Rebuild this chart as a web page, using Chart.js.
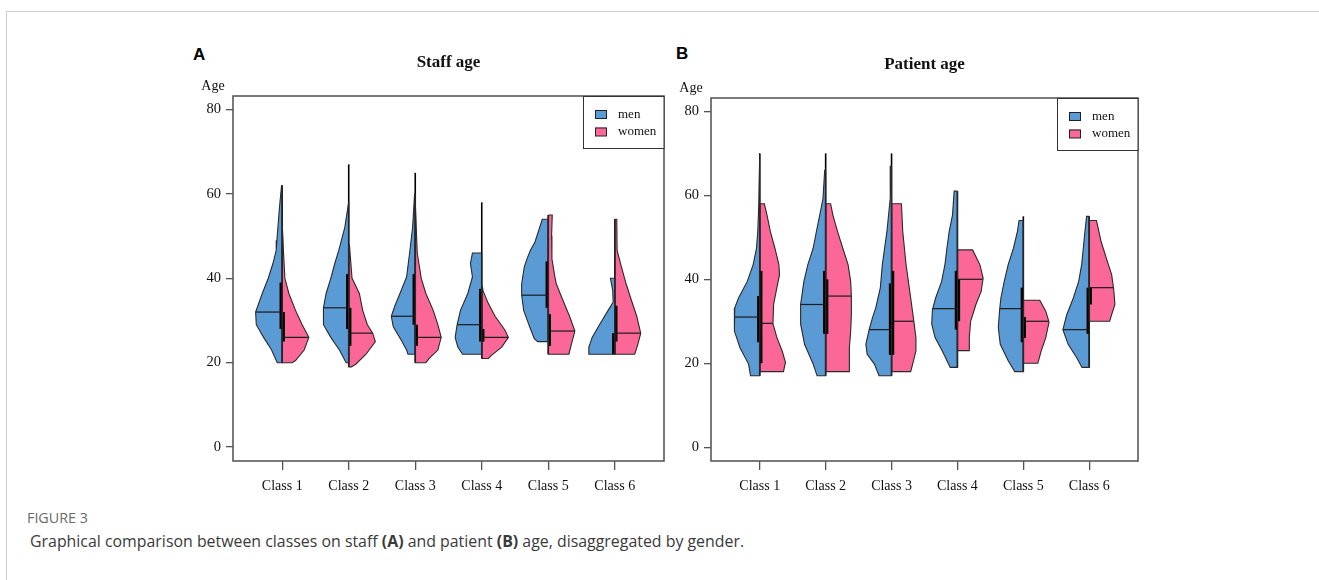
<!DOCTYPE html>
<html><head><meta charset="utf-8">
<script src="https://cdn.jsdelivr.net/npm/chart.js@4.4.1/dist/chart.umd.min.js"></script>
<style>
html,body{margin:0;padding:0;background:#fff}
body{width:1319px;height:580px;overflow:hidden;position:relative}
#frame{position:absolute;left:6px;top:11px;right:0;bottom:0;border-top:1px solid #cfcfcf;border-left:1px solid #cfcfcf}
canvas{position:absolute}
.lab{position:absolute;font-family:'Liberation Sans',Arial,sans-serif;font-weight:bold;font-size:17px;color:#000;line-height:20px}
#fig{position:absolute;left:27px;top:509px;font-family:'Open Sans',sans-serif;font-size:14.3px;color:#6a6a6a;line-height:18px}
#cap{position:absolute;left:30px;top:530px;font-family:'Open Sans',sans-serif;font-size:15.9px;color:#3a3a3a;line-height:22px;white-space:nowrap}
</style></head>
<body>
<div id="frame"></div>
<div class="lab" style="left:193px;top:45px">A</div>
<div class="lab" style="left:676px;top:44px">B</div>
<canvas id="cA" width="530" height="480" style="left:150px;top:30px"></canvas>
<canvas id="cB" width="530" height="480" style="left:627px;top:30px"></canvas>
<div id="fig">FIGURE 3</div>
<div id="cap">Graphical comparison between classes on staff <b>(A)</b> and patient <b>(B)</b> age, disaggregated by gender.</div>
<script>
// ---------- data ----------
const classes = ['Class 1','Class 2','Class 3','Class 4','Class 5','Class 6'];
const yTicks = [0, 20, 40, 60, 80];
const groups = ['men', 'women'];

// density outlines: [age, half-width in % of class spacing], from top to bottom
const staffMenDensity = [
  [[62,1],[57,4],[49,8],[46.6,9],[43.5,14],[40,21],[36.4,30],[32,40],[29,39],[26,28],[23,16],[20,7.5]],
  [[58,1],[52,6],[46.6,15],[43.5,21],[40,27],[36.4,34],[33,38],[29,38],[26,27],[23,14],[21.5,9],[20,4]],
  [[60,1],[52,4],[46.6,8],[40.3,13],[36.4,23],[33.3,31],[31,36],[28.5,33],[25.3,21],[23,13],[22,11]],
  [[46,14],[43.5,17],[40.3,14],[36.4,21],[32.4,32],[29,37],[26,40],[23.7,36],[22,29]],
  [[54,9],[48.6,20],[46.6,27],[44.6,32],[42.7,36],[38.7,40],[36,40],[32.4,37],[28.5,28],[25.7,21],[25,16]],
  [[40,6.5],[37,3],[34.3,2.5],[32.4,10],[29,23],[26,34],[23.7,39],[22,39]]
];
const staffWomenDensity = [
  [[53,1],[46,2],[40,4],[36.4,10],[32.4,20],[29,30],[26,40],[23,33],[20.5,20],[20,15]],
  [[48,1],[40,5],[36.4,16],[32.4,21],[29,28],[27,36],[25,40],[22,26],[19.7,11],[19,4]],
  [[58,1],[46,3],[40,9],[36.4,16],[32.4,27],[29,34],[26,39],[23,34],[21,21],[20,16]],
  [[38,1],[37,2],[34,10],[31,20],[27.7,35],[26,40],[23.7,30],[21.8,15],[21,10]],
  [[55,6],[50,5],[44.6,5.5],[40.7,9.5],[38.7,12],[34.8,22],[31,32],[27.5,40],[24.5,35],[22,31]],
  [[54,3],[46.6,3.5],[42.7,10],[38.7,17],[34.8,25],[31,33],[27,39],[24.5,35],[22,30]]
];
const patientMenDensity = [
  [[70,1],[58,1.5],[51.4,3],[47.4,5],[43.5,10],[39.5,19],[35.6,32],[33.2,38],[30.8,39],[27.7,38],[23.7,30],[19.8,17],[17,14]],
  [[66,1.5],[59.3,4],[55.3,9],[51.4,14],[47.4,19],[43.5,27],[39.5,33],[34,38],[29.3,38],[24.5,32],[19.8,19],[17,13]],
  [[67,1],[59.3,2],[51.4,7],[43.5,14],[38,17],[33.2,24],[30.8,29],[28,34],[24.5,39],[22.1,37],[19.8,26],[17,19]],
  [[61,5],[55.3,7.5],[51.4,12.5],[47.4,16],[43.5,19],[39.5,24],[35.6,33],[32.7,38],[29.3,39],[26.1,34],[22.9,23],[19,11]],
  [[54,6.5],[51.4,9],[47.4,15],[43.5,23],[39.5,29],[35.6,34],[32.7,36],[28.5,38],[24.5,35],[20.6,23],[18,13]],
  [[55,4],[51.4,6.5],[47.4,9],[43.5,11.5],[39.5,16],[35.6,24],[31.6,34],[28,40],[24.5,32],[21.3,19],[19,11]]
];
const patientWomenDensity = [
  [[58,7],[55.3,11],[51.4,16],[47.4,23],[43.5,29],[41.1,30],[38,26],[34,21],[29.4,20],[26.1,26],[22.9,34],[20.2,39],[18,36]],
  [[58,7.5],[55.3,11],[51.4,18],[47.4,26],[43.5,34],[39.5,38],[36,39],[31.6,39],[27.7,38],[23.7,36],[18,36]],
  [[58,15],[51.4,17],[43.5,22],[35.6,29],[29.8,34],[26.1,37],[22.9,37],[19.8,32],[18,29]],
  [[47,23],[43.5,34],[40.3,39],[37.1,36],[34,28],[30,20],[26.1,18],[23,18]],
  [[35,25],[32.4,34],[29.8,39],[26.1,34],[22.9,27],[20,22]],
  [[54,11],[49,18],[45,26],[41.1,34],[37.8,37],[34,39],[31.6,34],[30,31]]
];

const staffMenMedian = [32, 33, 31, 29, 36, null];
const staffWomenMedian = [26, 27, 26, 26, 27.5, 27];
const patientMenMedian = [31, 34, 28, 33, 33, 28];
const patientWomenMedian = [29.5, 36, 30, 40, 30, 38];

// interquartile boxes [Q1, Q3]
const staffMenBox = [[28,39],[28,41],[29,41],[25,37.5],[33,44],[22,27]];
const staffWomenBox = [[25,32],[24,33],[24,29],[25,28],[24,31.5],[25,33.5]];
const patientMenBox = [[25,36],[27,42],[22,39],[28,42],[25,38],[27,38]];
const patientWomenBox = [[20,42],[27,40],[22,42],[30,40],[26,31],[34,38]];

// overall range [min, max]
const staffRange = [[20,62],[19,67],[20,65],[21,58],[22,55],[22,54]];
const patientRange = [[17,70],[17,70],[17,70],[19,61],[18,55],[19,55]];

// ---------- styling ----------
const MEN_COLOR = '#5b9bd5';
const WOMEN_COLOR = '#fb6898';
const EDGE = '#2a2a2a';
const SERIF = "'Liberation Serif','Times New Roman',serif";

function widthAt(outline, age) {
  if (age >= outline[0][0]) return outline[0][1];
  for (let k = 0; k < outline.length - 1; k++) {
    const [a1, w1] = outline[k], [a2, w2] = outline[k + 1];
    if (age <= a1 && age >= a2) return w1 + (w2 - w1) * (a1 - age) / (a1 - a2 || 1);
  }
  return outline[outline.length - 1][1];
}

function buildDatasets(menDens, womenDens, menMed, womenMed, menBox, womenBox, range) {
  const ds = [];
  const off = 0.018;
  const poly = (i, outline, side, color) => {
    const pts = [{x: i, y: outline[0][0]}];
    outline.forEach(([a, w]) => pts.push({x: i + side * w / 100, y: a}));
    pts.push({x: i, y: outline[outline.length - 1][0]});
    pts.push({x: i, y: outline[0][0]});
    ds.push({data: pts, violin: true, violinColor: color, borderColor: EDGE, borderWidth: 1.1, pointRadius: 0, fill: false, tension: 0});
  };
  classes.forEach((c, k) => {
    const i = k + 1;
    poly(i, menDens[k], -1, MEN_COLOR);
    poly(i, womenDens[k], 1, WOMEN_COLOR);
  });
  classes.forEach((c, k) => {
    const i = k + 1;
    if (menMed[k] != null) ds.push({data: [{x: i - widthAt(menDens[k], menMed[k]) / 100, y: menMed[k]}, {x: i, y: menMed[k]}], borderColor: '#1a1a1a', borderWidth: 1.2, pointRadius: 0, fill: false});
    if (womenMed[k] != null) ds.push({data: [{x: i, y: womenMed[k]}, {x: i + widthAt(womenDens[k], womenMed[k]) / 100, y: womenMed[k]}], borderColor: '#1a1a1a', borderWidth: 1.2, pointRadius: 0, fill: false});
    ds.push({data: [{x: i, y: range[k][0]}, {x: i, y: range[k][1]}], borderColor: '#000', borderWidth: 1.6, pointRadius: 0, fill: false});
    ds.push({data: [{x: i - off, y: menBox[k][0]}, {x: i - off, y: menBox[k][1]}], borderColor: '#000', borderWidth: 3, pointRadius: 0, fill: false, borderCapStyle: 'butt'});
    ds.push({data: [{x: i + off, y: womenBox[k][0]}, {x: i + off, y: womenBox[k][1]}], borderColor: '#000', borderWidth: 3, pointRadius: 0, fill: false, borderCapStyle: 'butt'});
  });
  return ds;
}

const violinPlugin = {
  id: 'violin',
  beforeDatasetsDraw(chart) {
    const ctx = chart.ctx, a = chart.chartArea;
    ctx.save();
    ctx.beginPath(); ctx.rect(a.left, a.top, a.right - a.left, a.bottom - a.top); ctx.clip();
    chart.data.datasets.forEach((d, di) => {
      if (!d.violin) return;
      const pts = chart.getDatasetMeta(di).data;
      ctx.beginPath();
      pts.forEach((p, k) => k ? ctx.lineTo(p.x, p.y) : ctx.moveTo(p.x, p.y));
      ctx.closePath();
      ctx.fillStyle = d.violinColor;
      ctx.fill();
    });
    ctx.restore();
  },
  afterDraw(chart, args, opts) {
    const ctx = chart.ctx, a = chart.chartArea;
    ctx.save();
    ctx.strokeStyle = '#595959'; ctx.lineWidth = 1.6;
    ctx.strokeRect(a.left, a.top, a.right - a.left, a.bottom - a.top);
    ctx.fillStyle = '#111';
    ctx.font = 'bold 17px ' + SERIF;
    ctx.textAlign = 'center'; ctx.textBaseline = 'alphabetic';
    ctx.fillText(opts.title, (a.left + a.right) / 2, a.top - 29);
    ctx.font = '14px ' + SERIF;
    ctx.fillText('Age', a.left - 20, a.top - 6);
    const lw = 81, lh = 52, lx = a.right - lw, ly = a.top;
    ctx.fillStyle = '#fff'; ctx.fillRect(lx, ly, lw, lh);
    ctx.strokeStyle = '#333'; ctx.lineWidth = 1;
    ctx.strokeRect(lx + 0.5, ly + 0.5, lw - 0.5, lh);
    const cols = [MEN_COLOR, WOMEN_COLOR];
    groups.forEach((g, k) => {
      const sy = ly + 14 + k * 17.5;
      ctx.fillStyle = cols[k]; ctx.fillRect(lx + 12, sy, 11.5, 8.5);
      ctx.strokeStyle = '#222'; ctx.strokeRect(lx + 12.5, sy + 0.5, 11, 8);
      ctx.fillStyle = '#111'; ctx.font = '13px ' + SERIF;
      ctx.textAlign = 'left'; ctx.textBaseline = 'middle';
      ctx.fillText(g, lx + 35, sy + 4.5);
    });
    ctx.restore();
  }
};

function makeChart(id, title, datasets, pad) {
  return new Chart(document.getElementById(id), {
    type: 'line',
    data: {datasets},
    plugins: [violinPlugin],
    options: {
      responsive: false, animation: false, devicePixelRatio: 1, events: [],
      layout: {padding: pad},
      elements: {point: {radius: 0}, line: {tension: 0}},
      plugins: {legend: {display: false}, tooltip: {enabled: false}, violin: {title}},
      scales: {
        x: {
          type: 'linear', min: 0.26, max: 6.74,
          afterFit(s) { s.height = 40; },
          afterBuildTicks(s) { s.ticks = classes.map((c, k) => ({value: k + 1})); },
          ticks: {callback: (v) => classes[Math.round(v) - 1], autoSkip: false, maxRotation: 0,
                  font: {family: SERIF, size: 14}, color: '#111', padding: 8},
          grid: {drawOnChartArea: false, drawTicks: true, tickLength: 9, color: '#555', lineWidth: 1.3},
          border: {display: false}
        },
        y: {
          type: 'linear', min: -3.3, max: 83.2,
          afterFit(s) { s.width = 50; },
          afterBuildTicks(s) { s.ticks = yTicks.map(v => ({value: v})); },
          ticks: {font: {family: SERIF, size: 14.5}, color: '#111', padding: 5},
          grid: {drawOnChartArea: false, drawTicks: true, tickLength: 7, color: '#555', lineWidth: 1.3},
          border: {display: false}
        }
      }
    }
  });
}

makeChart('cA', 'Staff age',
  buildDatasets(staffMenDensity, staffWomenDensity, staffMenMedian, staffWomenMedian, staffMenBox, staffWomenBox, staffRange),
  {left: 33, top: 66, right: 16, bottom: 9});
makeChart('cB', 'Patient age',
  buildDatasets(patientMenDensity, patientWomenDensity, patientMenMedian, patientWomenMedian, patientMenBox, patientWomenBox, patientRange),
  {left: 34, top: 68, right: 19, bottom: 9});
</script>
</body></html>
